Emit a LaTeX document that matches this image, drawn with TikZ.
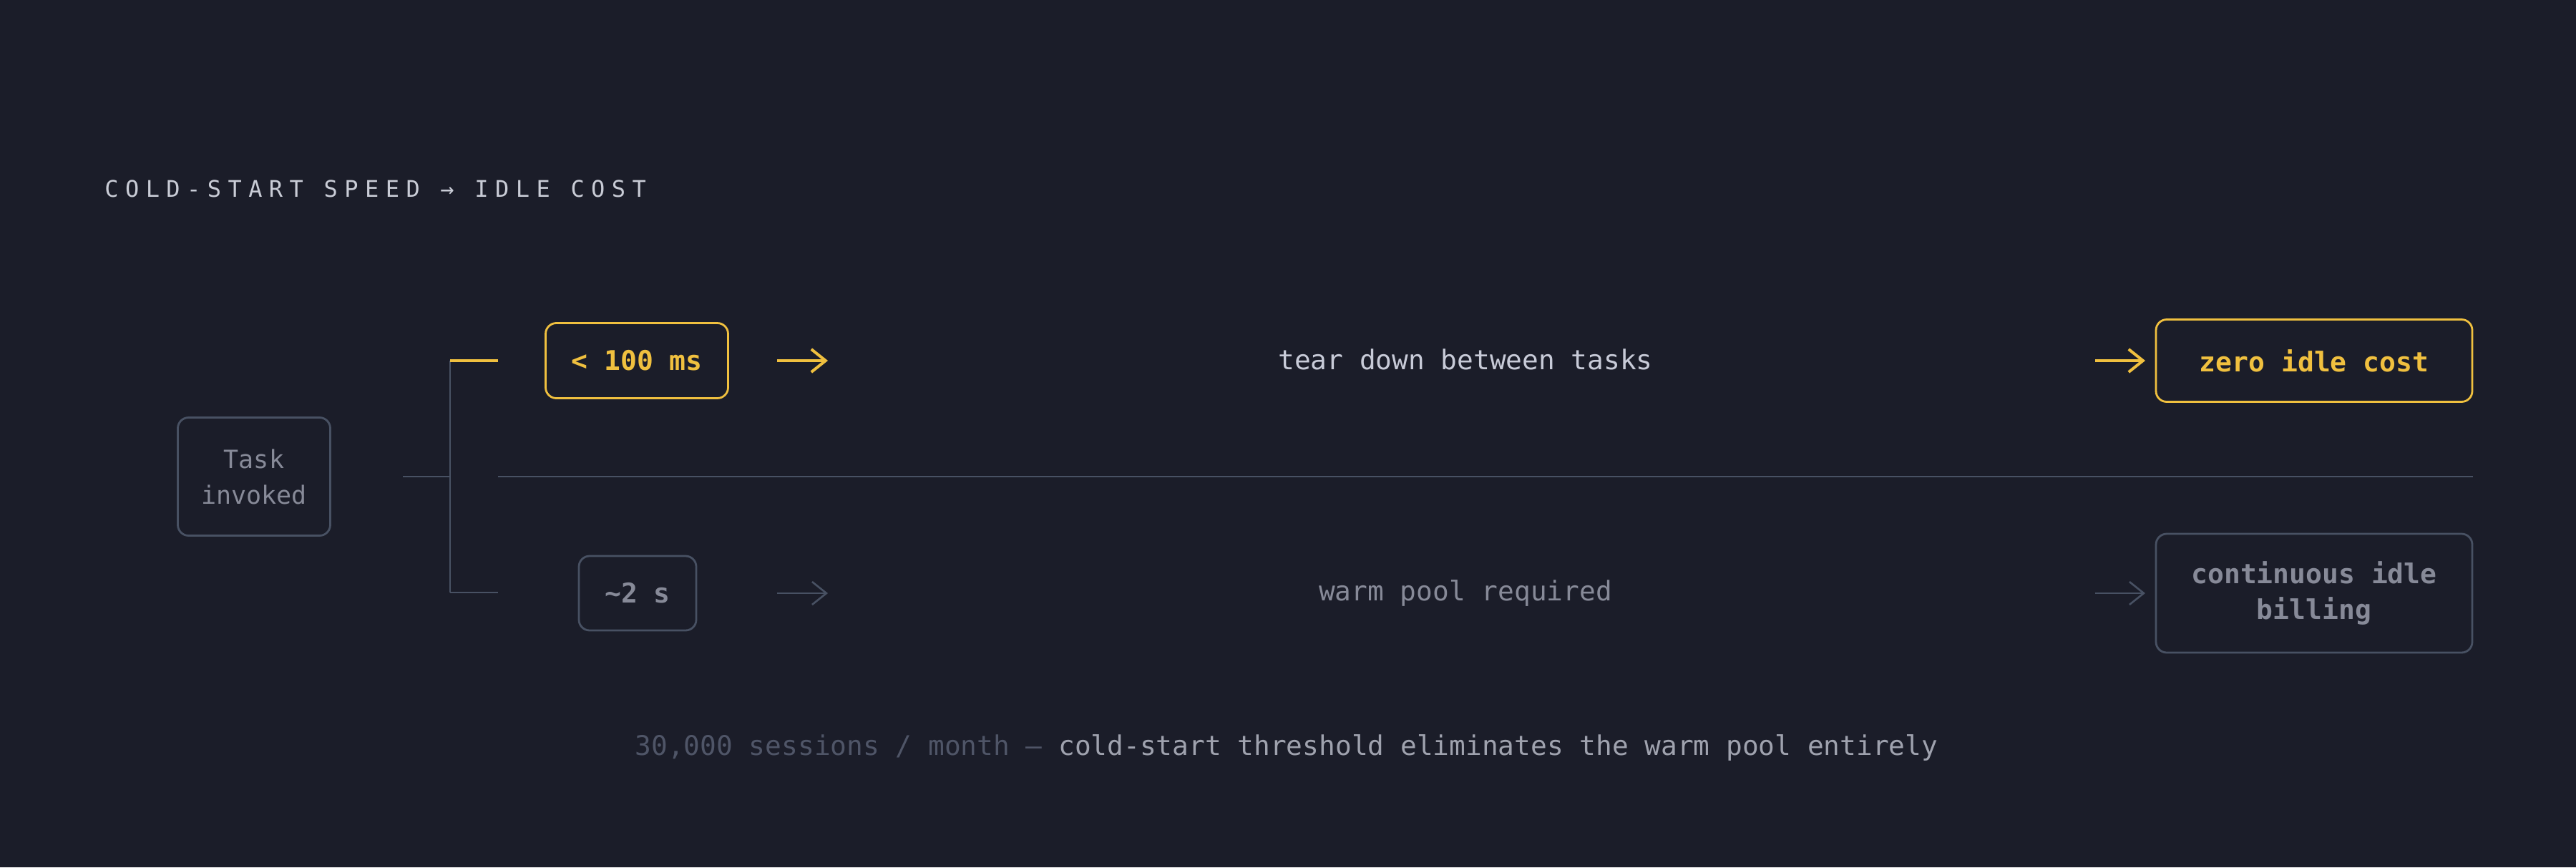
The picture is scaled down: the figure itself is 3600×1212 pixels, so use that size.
\documentclass[tikz,border=0pt]{standalone}
\usepackage{fontspec}
\setmonofont{DejaVu Sans Mono}
\newfontfamily\titlefont[LetterSpace=29.5]{DejaVu Sans Mono}
\usetikzlibrary{arrows.meta}
\definecolor{bg}{HTML}{1B1D29}
\definecolor{yel}{HTML}{F0C03F}
\definecolor{gline}{HTML}{485163}
\definecolor{gtext}{HTML}{878A98}
\definecolor{ltext}{HTML}{C8CBD8}
\definecolor{ttl}{HTML}{C9CCD6}
\definecolor{fdim}{HTML}{4F5567}
\definecolor{fbright}{HTML}{9FA2AE}
\tikzset{
  box/.style={draw, rounded corners=7.5pt, line width=1.4pt, inner sep=0pt, align=center},
  hotbox/.style={box, draw=yel, text=yel, font=\ttfamily\bfseries\fontsize{19pt}{25pt}\selectfont},
  coldbox/.style={box, draw=gline, text=gtext, font=\ttfamily\bfseries\fontsize{19pt}{25pt}\selectfont},
  taskbox/.style={box, draw=gline, text=gtext, font=\ttfamily\fontsize{17.5pt}{25pt}\selectfont},
  lbl/.style={inner sep=0pt, font=\ttfamily\fontsize{18.9pt}{25pt}\selectfont},
  gl/.style={draw=gline, line width=1.35pt},
  hotarr/.style={draw=yel, line width=2pt, -{Straight Barb[length=10pt,width=16pt]}},
  coldarr/.style={draw=gline, line width=1.3pt, -{Straight Barb[length=10pt,width=16pt]}},
}
\begin{document}
\begin{tikzpicture}[x=0.5pt,y=-0.5pt]
\fill[bg] (0,0) rectangle (3600,1212);
\useasboundingbox (0,0) rectangle (3600,1212);

% title
\node[anchor=base west, inner sep=0pt, text=ttl, font=\titlefont\fontsize{16pt}{20pt}\selectfont] (title) at (146,275) {COLD-START SPEED → IDLE COST};

% nodes
\node[taskbox, minimum width=106.5pt, minimum height=82.5pt] (task) at (355,666) {Task\\invoked};
\node[hotbox, minimum width=127.5pt, minimum height=52.5pt] (fast) at (890,504) {< 100 ms};
\node[coldbox, minimum width=82pt, minimum height=52pt] (slow) at (891,829) {\textasciitilde 2 s};
\node[hotbox, minimum width=221pt, minimum height=57.5pt] (zero) at (3234,504) {zero idle cost};
\node[coldbox, minimum width=221pt, minimum height=83pt] (cont) at (3234,829) {continuous idle\\billing};

\node[lbl, anchor=base, text=ltext] (tear) at (2048,516) {tear down between tasks};
\node[lbl, anchor=base, text=gtext] (warm) at (2048,839) {warm pool required};

% branch coordinates
\coordinate (stubS) at (563,666);
\coordinate (junc) at (629,666);
\coordinate (jTop) at (629,504);
\coordinate (jBot) at (629,828);
\coordinate (topEnd) at (696,504);
\coordinate (botEnd) at (696,828);
\coordinate (divS) at (696,666);
\coordinate (divE) at (3456,666);

\draw[gl] (stubS) -- (junc);
\draw[gl] (jTop) -- (jBot);
\draw[gl] (jBot) -- (botEnd);
\draw[draw=yel, line width=2pt] (jTop) -- (topEnd);
\draw[gl] (divS) -- (divE);

% arrows
\coordinate (a1s) at (1086,504); \coordinate (a1e) at (1157,504);
\coordinate (a2s) at (2928,504); \coordinate (a2e) at (2998,504);
\coordinate (a3s) at (1086,829); \coordinate (a3e) at (1157,829);
\coordinate (a4s) at (2928,829); \coordinate (a4e) at (2998,829);
\draw[hotarr] (a1s) -- (a1e);
\draw[hotarr] (a2s) -- (a2e);
\draw[coldarr] (a3s) -- (a3e);
\draw[coldarr] (a4s) -- (a4e);

% footer
\node[lbl, anchor=base] (foot) at (1798,1055) {\textcolor{fdim}{30,000 sessions / month —} \textcolor{fbright}{cold-start threshold eliminates the warm pool entirely}};
\end{tikzpicture}
\end{document}
